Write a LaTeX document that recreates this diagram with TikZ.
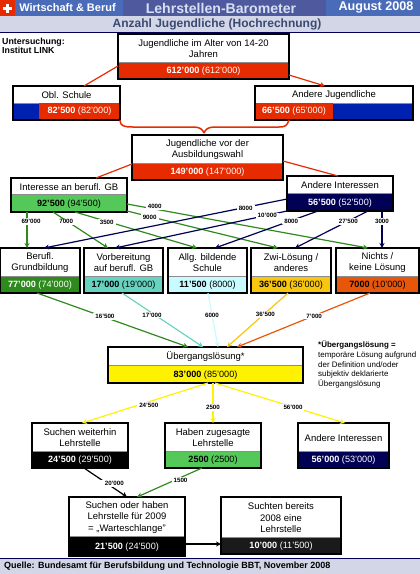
\documentclass[tikz,border=0pt]{standalone}
\usepackage{fontspec}
\setmainfont{Liberation Sans}
\usetikzlibrary{arrows.meta}
\definecolor{jred}{HTML}{E62B00}
\definecolor{jblue}{HTML}{0020B0}
\definecolor{jgreen}{HTML}{55C85A}
\definecolor{jdgreen}{HTML}{2F8A1E}
\definecolor{jteal}{HTML}{66D3C0}
\definecolor{jcyan}{HTML}{C8FBFF}
\definecolor{jamber}{HTML}{F8C50F}
\definecolor{jorange}{HTML}{E8560A}
\definecolor{jyellow}{HTML}{FFF200}
\definecolor{jnavy}{HTML}{000055}
\definecolor{jdark}{HTML}{1A1A1A}
\definecolor{hblue}{HTML}{4A6CB8}
\definecolor{hmid}{HTML}{4F5A9E}
\definecolor{hband}{HTML}{D3D6E6}
\definecolor{htitle}{HTML}{3A4A72}
\definecolor{hlight}{HTML}{D5E0F2}
\tikzset{
  x=1pt,y=-1pt,
  frame/.style={draw=black,line width=2.4pt,anchor=north west,inner sep=0pt,outer sep=0pt},
  ttl/.style={font=\fontsize{9.5}{11.4}\selectfont,align=center,text=black,inner sep=0pt,yshift=-.8pt},
  val/.style={font=\fontsize{9.1}{11}\selectfont,anchor=north west,inner sep=0pt,outer sep=0pt},
  vred/.style={fill=jred,text=white},
  vblue/.style={fill=jblue,text=white},
  vgreen/.style={fill=jgreen,text=black},
  vdgreen/.style={fill=jdgreen,text=white},
  vteal/.style={fill=jteal,text=black},
  vcyan/.style={fill=jcyan,text=black},
  vamber/.style={fill=jamber,text=black},
  vorange/.style={fill=jorange,text=black},
  vyellow/.style={fill=jyellow,text=black},
  vnavy/.style={fill=jnavy,text=white},
  vblack/.style={fill=black,text=white},
  vdark/.style={fill=jdark,text=white},
  flow/.style={draw=#1,line width=1.2pt,-{Stealth[length=5pt,width=5pt]}},
  flat/.style={draw=#1,line width=1.2pt},
  lab/.style={fill=white,font=\fontsize{6.2}{7}\selectfont\bfseries,text=black,inner xsep=2pt,inner ysep=1pt,yshift=-.6pt},
  band/.style={anchor=north west,inner sep=0pt,outer sep=0pt},
  head/.style={font=\bfseries,inner sep=0pt},
  note/.style={anchor=north west,align=left,inner sep=0pt,text=black},
}
% name, x0, y0, x1, y1, ysplit, title, value style, value
\def\jbox#1#2#3#4#5#6#7#8#9{%
  \node[val,#8,minimum width={(#4)-(#2)},minimum height={(#5)-(#6)}] (#1-v) at (#2,#6) {};
  \node[val,#8,fill=none,anchor=center,yshift=-.7pt] (#1-n) at ({((#2)+(#4))/2},{((#6)+(#5))/2}) {#9};
  \node[ttl] (#1-t) at ({((#2)+(#4))/2},{((#3)+(#6))/2}) {#7};
  \draw[line width=.7pt,draw=black!45] (#1-v.north west) -- (#1-v.north east);
  \node[frame,minimum width={(#4)-(#2)},minimum height={(#5)-(#3)}] (#1) at (#2,#3) {};
}
\begin{document}
\begin{tikzpicture}
\useasboundingbox (0,0) rectangle (420,574);
% header
\node[band,fill=jred,minimum width=15pt,minimum height=16pt] (flag) at (0,0) {};
\node[band,fill=white,minimum width=9pt,minimum height=3pt] (flagh) at (3,6.5) {};
\node[band,fill=white,minimum width=3pt,minimum height=9pt] (flagv) at (6,3.5) {};
\node[band,fill=hblue,minimum width=108pt,minimum height=16pt] (hl) at (15,0) {};
\node[band,fill=hmid,minimum width=203pt,minimum height=16pt] (hm) at (123,0) {};
\node[band,fill=hblue,minimum width=94pt,minimum height=16pt] (hr) at (326,0) {};
\node[band,fill=hband,minimum width=420pt,minimum height=16pt] (hb) at (0,16) {};
\draw[jnavy,line width=.7pt] (hb.south west) -- (hb.south east);
\node[head,text=white,font=\fontsize{11}{12}\selectfont\bfseries] (t1) at (67.5,8) {Wirtschaft \& Beruf};
\node[head,text=hlight,font=\fontsize{14.1}{15}\selectfont\bfseries] (t2) at (221,8.5) {Lehrstellen-Barometer};
\node[head,text=white,font=\fontsize{12.6}{13}\selectfont\bfseries] (t3) at (376,7) {August 2008};
\node[head,text=htitle,font=\fontsize{12}{13}\selectfont\bfseries] (t4) at (217,24) {Anzahl Jugendliche (Hochrechnung)};
\node[note,font=\fontsize{8.8}{9}\selectfont\bfseries] (link) at (2,38) {Untersuchung:\\Institut LINK};
% footer
\node[band,fill=hband,minimum width=420pt,minimum height=16pt] (fb) at (0,558) {};
\draw[jnavy,line width=.8pt] (fb.north west) -- (fb.north east);
\node[note,font=\fontsize{9}{10}\selectfont\bfseries] (src) at (4,561.5) {Quelle: Bundesamt für Berufsbildung und Technologie BBT, November 2008};
% boxes
\jbox{all}{118}{34}{289}{79}{62}{Jugendliche im Alter von 14-20\\Jahren}{vred}{\textbf{612'000} (612'000)}
\jbox{obl}{13}{86}{120}{120}{103}{Obl. Schule}{vblue}{}
\node[val,vred,minimum width=81pt,minimum height=17pt] (oblr) at (39,103) {\textbf{82'500} (82'000)};
\node[frame,minimum width=107pt,minimum height=34pt] (oblf) at (13,86) {};
\jbox{and}{255}{86}{413}{120}{103}{Andere Jugendliche}{vblue}{}
\node[val,vred,minimum width=78pt,minimum height=17pt] (andr) at (255,103) {\textbf{66'500} (65'000)};
\node[frame,minimum width=158pt,minimum height=34pt] (andf) at (255,86) {};
\jbox{aus}{132}{135}{283}{180}{163}{Jugendliche vor der\\Ausbildungswahl}{vred}{\textbf{149'000} (147'000)}
\jbox{int}{11}{178}{127}{212}{194}{Interesse an berufl. GB}{vgreen}{\textbf{92'500} (94'500)}
\jbox{ain}{287}{176}{393}{211}{193}{Andere Interessen}{vnavy}{\textbf{56'500} (52'500)}
\jbox{bg}{0}{248}{80}{293}{276}{Berufl.\\Grundbildung}{vdgreen}{\textbf{77'000} (74'000)}
\jbox{vb}{84}{248}{163}{293}{276}{Vorbereitung\\auf berufl. GB}{vteal}{\textbf{17'000} (19'000)}
\jbox{ab}{168}{248}{247}{293}{276}{Allg. bildende\\Schule}{vcyan}{\textbf{11'500} (8000)}
\jbox{zw}{251}{248}{331}{293}{276}{Zwi-Lösung /\\anderes}{vamber}{\textbf{36'500} (36'000)}
\jbox{ni}{336}{248}{419}{293}{276}{Nichts /\\keine Lösung}{vorange}{\textbf{7000} (10'000)}
\jbox{ue}{108}{347}{303}{383}{365}{Übergangslösung*}{vyellow}{\textbf{83'000} (85'000)}
\jbox{su}{32}{423}{128}{468}{451}{Suchen weiterhin\\Lehrstelle}{vblack}{\textbf{24'500} (29'500)}
\jbox{ha}{165}{423}{261}{468}{451}{Haben zugesagte\\Lehrstelle}{vgreen}{\textbf{2500} (2500)}
\jbox{an2}{298}{423}{389}{468}{451}{Andere Interessen}{vnavy}{\textbf{56'000} (53'000)}
\jbox{wa}{69}{497}{185}{556}{536}{Suchen oder haben\\Lehrstelle für 2009\\= „Warteschlange"}{vblack}{\textbf{21'500} (24'500)}
\jbox{be}{221}{497}{341}{554}{537}{Suchten bereits\\2008 eine\\Lehrstelle}{vdark}{\textbf{10'000} (11'500)}
\node[note,font=\fontsize{7.95}{9.6}\selectfont] (nt) at (318,341) {\textbf{*Übergangslösung =}\\temporäre Lösung aufgrund\\der Definition und/oder\\subjektiv deklarierte\\Übergangslösung};
% upper connectors
\draw[flat=jred] ([yshift=13pt]all.south west) -- ([xshift=71pt]obl.north west);
\draw[flow=jred] ([yshift=4pt]all.south east) -- ([xshift=70pt]and.north west);
\draw[flat=jred,line width=1.5pt] (obl.south east) .. controls ([yshift=-6pt]obl.south east) and ([xshift=4pt,yshift=-7pt]obl.south east) .. ([xshift=13pt,yshift=-7pt]obl.south east) -- ([xshift=-14pt,yshift=8pt]aus.north) .. controls ([xshift=-8pt,yshift=8pt]aus.north) and ([xshift=-5pt,yshift=6pt]aus.north) .. ([xshift=-3.5pt,yshift=2pt]aus.north);
\draw[flat=jred,line width=1.5pt] ([xshift=34pt]and.south west) .. controls ([xshift=32pt,yshift=-6pt]and.south west) and ([xshift=30pt,yshift=-7pt]and.south west) .. ([xshift=24pt,yshift=-7pt]and.south west) -- ([xshift=7pt,yshift=8pt]aus.north) .. controls ([xshift=1pt,yshift=8pt]aus.north) and ([xshift=-2pt,yshift=6pt]aus.north) .. ([xshift=-3.5pt,yshift=2pt]aus.north);
\draw[flat=jred] ([yshift=16pt]aus.south west) -- ([xshift=85pt]int.north west);
\draw[flat=jred] ([yshift=19pt]aus.south east) -- ([xshift=51pt]ain.north west);
% green flows
\draw[flow=jdgreen] ([xshift=16pt]int.south west) -- node[lab,pos=.25,xshift=4pt] (l1) {69'000} ([xshift=27pt]bg.north west);
\draw[flow=jdgreen] ([xshift=42pt]int.south west) -- node[lab,pos=.24,yshift=-.5pt] (l2) {7000} ([xshift=24pt]vb.north west);
\draw[flow=jdgreen] ([xshift=64pt]int.south west) -- node[lab,pos=.26] (l3) {3500} ([xshift=29pt]ab.north west);
\draw[flow=jdgreen] ([yshift=1pt]int.south east) -- node[lab,pos=.15] (l4) {9000} ([xshift=27pt]zw.north west);
\draw[flow=jdgreen] ([yshift=8pt]int.south east) -- node[lab,pos=.115,yshift=3pt] (l5) {4000} ([xshift=32pt]ni.north west);
% navy flows
\draw[flow=jnavy] ([yshift=12pt]ain.south west) -- node[lab,pos=.17] (l6) {8000} ([xshift=44pt]bg.north west);
\draw[flow=jnavy] (ain.south west) -- node[lab,pos=.115] (l7) {10'000} ([xshift=31pt]vb.north west);
\draw[flow=jnavy] ([xshift=31pt]ain.south west) -- node[lab,pos=.26] (l8) {8000} ([xshift=47pt]ab.north west);
\draw[flow=jnavy] ([xshift=81pt]ain.south west) -- node[lab,pos=.27] (l9) {27'500} ([xshift=44pt]zw.north west);
\draw[flow=jnavy] ([xshift=95pt]ain.south west) -- node[lab,pos=.27] (l10) {3000} ([xshift=46pt]ni.north west);
% into transition box
\draw[flow=jdgreen] ([xshift=37pt]bg.south west) -- node[lab,pos=.45,yshift=1.5pt] (l11) {16'500} ([xshift=80pt]ue.north west);
\draw[flow=jteal] ([xshift=38pt]vb.south west) -- node[lab,pos=.37,yshift=-1.5pt] (l12) {17'000} ([xshift=95pt]ue.north west);
\draw[flow=jcyan] ([xshift=40pt]ab.south west) -- node[lab,pos=.4] (l13) {6000} ([xshift=110pt]ue.north west);
\draw[flow=jamber] ([xshift=37pt]zw.south west) -- node[lab,pos=.37,yshift=-1pt] (l14) {36'500} ([xshift=119pt]ue.north west);
\draw[flow=jorange] ([xshift=34pt]ni.south west) -- node[lab,pos=.42] (l15) {7'000} ([xshift=129pt]ue.north west);
% out of transition box
\draw[flow=jyellow] ([xshift=100pt]ue.south west) -- node[lab,pos=.47,yshift=-3pt] (l16) {24'500} ([xshift=50pt]su.north west);
\draw[flow=jyellow] ([xshift=105pt]ue.south west) -- node[lab,pos=.6] (l17) {2500} ([xshift=48pt]ha.north west);
\draw[flow=jyellow] ([xshift=107pt]ue.south west) -- node[lab,pos=.6] (l18) {56'000} ([xshift=47pt]an2.north west);
\draw[flow=black] ([xshift=52pt]su.south west) -- node[lab,pos=.52,xshift=8pt,minimum width=34pt] (l19) {20'000} ([xshift=58pt]wa.north west);
\draw[flow=jdgreen] ([xshift=37pt]ha.south west) -- node[lab,pos=.33,yshift=-2pt] (l20) {1500} ([xshift=68pt]wa.north west);
\draw[flow=black] ([yshift=12pt]wa.south east) -- ([yshift=10pt]be.south west);
\end{tikzpicture}
\end{document}
